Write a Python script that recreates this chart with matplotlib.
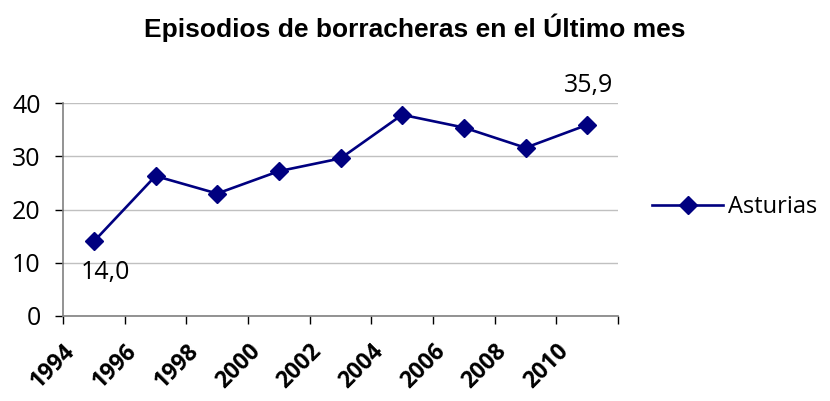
import matplotlib.pyplot as plt
import numpy as np

# data
years = ['1994', '1996', '1998', '2000', '2002', '2004', '2006', '2008', '2010']
asturias = [14.0, 26.3, 23.0, 27.2, 29.6, 37.8, 35.4, 31.6, 35.9]
y_ticks = [0, 10, 20, 30, 40]

navy = '#000080'

fig = plt.figure(figsize=(8.3, 4.01), dpi=100)
ax = fig.add_axes([0.0759, 0.212, 0.6687, 0.531])

x = np.arange(len(years))
ax.plot(x, asturias, color=navy, linewidth=1.9, marker='D', markersize=9,
        label='Asturias', zorder=3)

# data labels on first and last point
ax.annotate('14,0', (x[0], asturias[0]), xytext=(8, -22), textcoords='offset points',
            ha='center', va='center', fontsize=18, family='Open Sans')
ax.annotate('35,9', (x[-1], asturias[-1]), xytext=(1, 28), textcoords='offset points',
            ha='center', va='center', fontsize=18, family='Open Sans')

ax.set_xlim(-0.5, len(years) - 0.5)
ax.set_ylim(0, 40)
ax.set_yticks(y_ticks)
ax.set_yticklabels([str(v) for v in y_ticks], fontsize=18, family='Open Sans')
ax.yaxis.grid(True, color='#c0c0c0', linewidth=1)
ax.set_axisbelow(True)

# category axis: ticks between categories, labels on the boundaries
ax.set_xticks(np.arange(len(years) + 1) - 0.5)
ax.set_xticklabels(years + [''], rotation=45, ha='right', va='top',
                   rotation_mode='anchor', fontsize=16.5, fontweight='bold', family='Open Sans')
ax.tick_params(axis='x', length=6, width=1, color='#000000', pad=11)
ax.tick_params(axis='y', length=6, width=1, color='#000000', pad=10)

for side in ['top', 'right']:
    ax.spines[side].set_visible(False)
for side in ['left', 'bottom']:
    ax.spines[side].set_color('#808080')
    ax.spines[side].set_linewidth(1.2)

fig.text(0.5, 0.93, 'Episodios de borracheras en el Último mes', ha='center', va='center',
         fontsize=19, fontweight='bold', family='Liberation Sans')

ax.legend(loc='center left', bbox_to_anchor=(1.045, 0.51), frameon=False,
          prop={'family': 'Open Sans', 'size': 17}, handlelength=3.0, handletextpad=0.2,
          borderaxespad=0)

plt.savefig('out.png', dpi=100)
